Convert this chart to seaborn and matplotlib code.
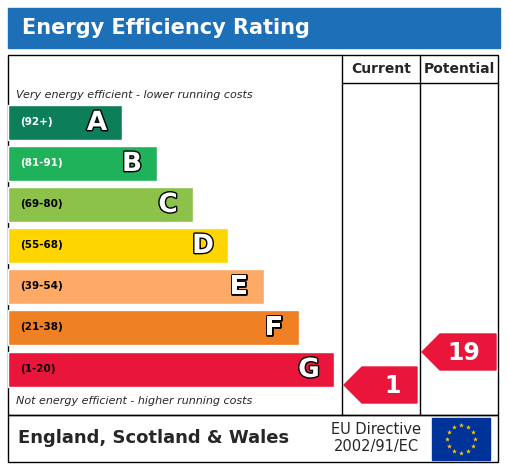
import numpy as np
import seaborn as sb
import matplotlib.pyplot as plt
import matplotlib.patheffects as pe
from matplotlib.patches import Rectangle, Polygon

sb.set_style("white")
plt.rcParams['font.family'] = ['DejaVu Sans']

letters = ["A", "B", "C", "D", "E", "F", "G"]
ranges = ["(92+)", "(81-91)", "(69-80)", "(55-68)", "(39-54)", "(21-38)", "(1-20)"]
range_colors = ["white", "white", "black", "black", "black", "black", "black"]
bar_ends = [122, 157, 193, 228, 264, 299, 334]
band_y = [122, 163, 204, 245, 286, 327, 369]
colors = ["#0c7f5a", "#1fb25a", "#8cc24a", "#ffd500", "#fcaa65", "#ef8023", "#e9153b"]
current = 1
potential = 19
current_y = 385
potential_y = 352

W, H = 509, 467
fig = plt.figure(figsize=(W / 100, H / 100), dpi=100)
ax = fig.add_axes([0, 0, 1, 1])
ax.set_xlim(0, W)
ax.set_ylim(H, 0)
ax.axis("off")

# title bar
ax.add_patch(Rectangle((8, 8), 492, 40, color="#1d70b7"))
ax.text(22, 28, "Energy Efficiency Rating", color="white", fontsize=15,
        fontweight="bold", va="center")

# frame and grid
ax.add_patch(Rectangle((8, 55), 490, 360, fill=False, lw=1, ec="black"))
ax.add_patch(Rectangle((8, 415), 490, 47, fill=False, lw=1, ec="black"))
ax.plot([342, 342], [55, 415], color="black", lw=1)
ax.plot([420, 420], [55, 415], color="black", lw=1)
ax.plot([342, 498], [83, 83], color="black", lw=1)
ax.text(381, 69, "Current", fontsize=10, fontweight="bold", ha="center", va="center")
ax.text(459, 69, "Potential", fontsize=10, fontweight="bold", ha="center", va="center")
ax.text(16, 95, "Very energy efficient - lower running costs", fontsize=8,
        style="italic", va="center")
ax.text(16, 401, "Not energy efficient - higher running costs", fontsize=8,
        style="italic", va="center")

# rating bands
widths = [e - 8 for e in bar_ends]
ax.barh(band_y, widths, left=8, height=35, color=colors)
for let, rng, rc, end, y in zip(letters, ranges, range_colors, bar_ends, band_y):
    ax.text(20, y, rng, fontsize=7.5, fontweight="bold", color=rc, va="center")
    ax.text(end - 25, y + 1, let, fontsize=19, fontweight="bold", color="white",
            ha="center", va="center",
            path_effects=[pe.withStroke(linewidth=2, foreground="black")])


def arrow(x0, x1, y, val, col):
    h = 18
    ax.add_patch(Polygon([(x0, y), (x0 + h, y - h), (x1, y - h), (x1, y + h),
                          (x0 + h, y + h)], closed=True, color=col))
    ax.text(x1 - 16, y + 1, str(val), fontsize=17, fontweight="bold", color="white",
            ha="right", va="center")


arrow(344, 417, current_y, current, colors[6])
arrow(422, 496, potential_y, potential, colors[6])

# footer
ax.text(18, 438, "England, Scotland & Wales", fontsize=13, fontweight="bold",
        va="center")
ax.text(376, 438, "EU Directive\n2002/91/EC", fontsize=10.5, ha="center",
        va="center", linespacing=1.1)
ax.add_patch(Rectangle((432, 418), 58, 42, color="#003399"))
ang = np.linspace(0, 2 * np.pi, 13)[:-1]
ax.scatter(461 + 14 * np.cos(ang), 439 + 14 * np.sin(ang), marker="*", s=14,
           color="#ffcc00", lw=0)

fig.savefig("out.png", dpi=100)
